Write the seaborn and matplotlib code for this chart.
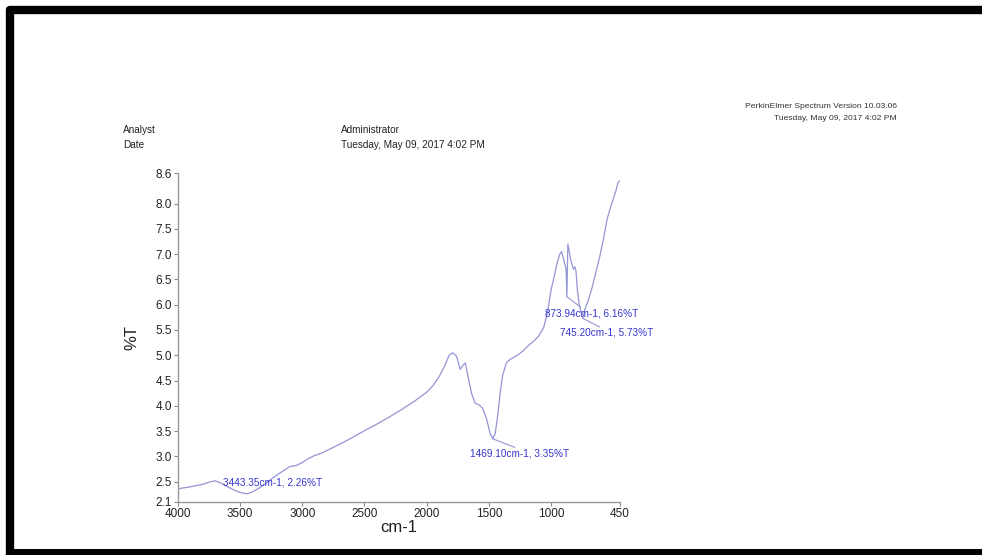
import matplotlib
matplotlib.use('Agg')
import matplotlib.pyplot as plt
import seaborn as sns
import pandas as pd
from matplotlib.lines import Line2D

# spectrum
wavenumber = [4000, 3900, 3800, 3750, 3700, 3650, 3600, 3550, 3500, 3443.35, 3400, 3350,
              3300, 3250, 3200, 3150, 3100, 3050, 3000, 2950, 2900, 2850, 2800, 2700,
              2600, 2500, 2400, 2300, 2200, 2100, 2000, 1950, 1900, 1850, 1820, 1790,
              1760, 1730, 1710, 1690, 1670, 1640, 1610, 1580, 1550, 1520, 1490, 1469.10,
              1450, 1430, 1410, 1390, 1360, 1330, 1300, 1260, 1220, 1180, 1140, 1100,
              1060, 1030, 1000, 970, 950, 930, 916, 895, 880, 873.94, 866, 855, 840,
              820, 810, 800, 790, 775, 760, 745.20, 730, 700, 670, 640, 610, 580, 550,
              520, 500, 480, 465, 450]
transmittance = [2.36, 2.40, 2.45, 2.49, 2.52, 2.47, 2.40, 2.34, 2.29, 2.26, 2.30, 2.37,
                 2.45, 2.55, 2.64, 2.72, 2.80, 2.82, 2.88, 2.96, 3.02, 3.06, 3.12, 3.24,
                 3.37, 3.51, 3.64, 3.78, 3.93, 4.09, 4.27, 4.40, 4.58, 4.82, 5.00, 5.05,
                 4.98, 4.72, 4.80, 4.85, 4.60, 4.25, 4.05, 4.02, 3.95, 3.75, 3.45, 3.35,
                 3.45, 3.80, 4.25, 4.60, 4.85, 4.92, 4.96, 5.02, 5.10, 5.20, 5.28, 5.38,
                 5.55, 5.85, 6.30, 6.62, 6.85, 7.00, 7.05, 6.85, 6.70, 6.16, 7.20, 7.05, 6.85,
                 6.70, 6.75, 6.65, 6.30, 6.00, 5.85, 5.73, 5.90, 6.10, 6.35, 6.65, 6.95, 7.30, 7.70,
                 7.95, 8.10, 8.25, 8.40, 8.45]

# peak labels
peak_x = [3443.35, 1469.10, 873.94, 745.20]
peak_y = [2.26, 3.35, 6.16, 5.73]
label_x = [3639, 1655, 1052, 932]
label_y = [2.48, 3.05, 5.83, 5.46]
lead_x = [3443.35, 1293, 763, 612]
lead_y = [2.26, 3.18, 5.95, 5.56]

xticks = [4000, 3500, 3000, 2500, 2000, 1500, 1000, 450]
yticks = [2.1, 2.5, 3.0, 3.5, 4.0, 4.5, 5.0, 5.5, 6.0, 6.5, 7.0, 7.5, 8.0, 8.6]

df = pd.DataFrame({'cm-1': wavenumber, '%T': transmittance})

sns.set_style('white')
plt.rcParams['font.family'] = ['Liberation Sans', 'DejaVu Sans']

fig = plt.figure(figsize=(9.82, 5.55), dpi=100)
ax = fig.add_axes([0.181, 0.0955, 0.45, 0.5925])

sns.lineplot(data=df, x='cm-1', y='%T', ax=ax, color='#9595d6', linewidth=0.9,
             sort=False, estimator=None)

ax.set_xlim(4000, 450)
ax.set_ylim(2.1, 8.6)
ax.set_xticks(xticks)
ax.set_xticklabels([str(t) for t in xticks])
ax.set_yticks(yticks)
ax.set_yticklabels(['%.1f' % t for t in yticks])
ax.tick_params(axis='both', labelsize=8.5, length=3, width=0.8, color='#888888',
               direction='out', left=True, bottom=True, pad=1, labelcolor='#222222')
for s in ['top', 'right']:
    ax.spines[s].set_visible(False)
for s in ['left', 'bottom']:
    ax.spines[s].set_color('#999999')
    ax.spines[s].set_linewidth(1.0)

ax.set_xlabel('cm-1', fontsize=12, labelpad=0, color='#222222')
ax.set_ylabel('%T', fontsize=12, labelpad=12, color='#222222')

for px, py, lx, ly, ex, ey in zip(peak_x, peak_y, label_x, label_y, lead_x, lead_y):
    ax.plot([px, ex], [py, ey], color='#9595d6', linewidth=0.8)
    ax.text(lx, ly, '%.2fcm-1, %.2f%%T' % (px, py), fontsize=7.2, color='#3535d0',
            ha='left', va='center')

# header
hdr = dict(fontsize=7.2, va='center', color='#222222')
fig.text(123 / 982, 1 - 130 / 555, 'Analyst', **hdr)
fig.text(123 / 982, 1 - 145 / 555, 'Date', **hdr)
fig.text(341 / 982, 1 - 130 / 555, 'Administrator', **hdr)
fig.text(341 / 982, 1 - 145 / 555, 'Tuesday, May 09, 2017 4:02 PM', **hdr)
fig.text(897 / 982, 1 - 107 / 555, 'PerkinElmer Spectrum Version 10.03.06', fontsize=6.1,
         ha='right', va='center', color='#333333')
fig.text(897 / 982, 1 - 118 / 555, 'Tuesday, May 09, 2017 4:02 PM', fontsize=6.1,
         ha='right', va='center', color='#333333')

# black frame of the scanned page
fig.add_artist(Line2D([10 / 982, 1], [1 - 10 / 555, 1 - 10 / 555], color='black',
                      linewidth=6, transform=fig.transFigure))
fig.add_artist(Line2D([10 / 982, 10 / 982], [0, 1 - 10 / 555], color='black',
                      linewidth=6, transform=fig.transFigure))
fig.add_artist(Line2D([10 / 982, 1], [3 / 555, 3 / 555], color='black',
                      linewidth=5, transform=fig.transFigure))

fig.savefig('out.png', dpi=100)
